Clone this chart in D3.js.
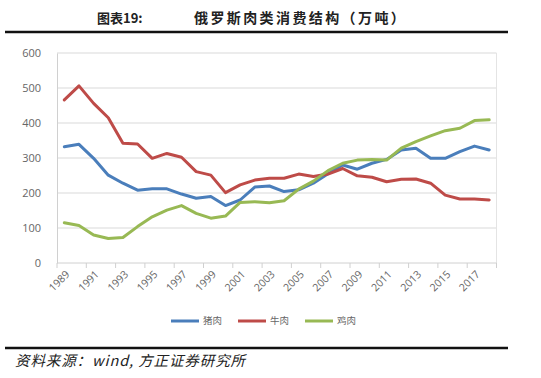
<!DOCTYPE html>
<html>
<head>
<meta charset="utf-8">
<script src="https://cdnjs.cloudflare.com/ajax/libs/d3/7.8.5/d3.min.js"></script>
<style>
  html, body { margin: 0; padding: 0; background: #fff; }
  svg { display: block; }
</style>
</head>
<body>
<svg id="chart" width="541" height="378"></svg>
<script>
const years = ["1989","1990","1991","1992","1993","1994","1995","1996","1997","1998","1999","2000","2001","2002","2003","2004","2005","2006","2007","2008","2009","2010","2011","2012","2013","2014","2015","2016","2017","2018"];
const pork = [332,339,299,251,228,208,212,212,197,185,190,164,180,217,220,204,209,228,255,280,268,285,296,323,328,299,299,318,334,323];
const beef = [466,506,456,415,342,340,299,313,302,261,251,201,223,237,242,242,254,247,254,270,249,245,232,239,240,228,194,183,183,180];
const chicken = [115,107,80,70,73,104,132,151,164,142,128,134,173,175,172,178,211,234,264,285,294,296,294,328,347,363,378,385,407,409];
const seriesNames = ["猪肉","牛肉","鸡肉"];
const yTicks = [0,100,200,300,400,500,600];
const titleLeft = "图表19:";
const titleRight = "俄罗斯肉类消费结构（万吨）";
const sourceText = "资料来源：wind, 方正证券研究所";

(function () {
const colors = ["#4a7ebb", "#be4b48", "#98b954"];
const seriesData = [pork, beef, chicken];

const svg = d3.select("#chart");
const pLeft = 57, pRight = 496.5, pTop = 53, pBottom = 263;

const x = d3.scaleBand().domain(years).range([pLeft, pRight]).padding(0);
const y = d3.scaleLinear().domain([0, 600]).range([pBottom, pTop]);

// Title
svg.append("text").attr("x", 97).attr("y", 23)
  .attr("font-family", "Noto Sans CJK SC").attr("font-size", 13).attr("font-weight", 700).attr("fill", "#222")
  .text(titleLeft);
svg.append("text").attr("x", 194).attr("y", 23)
  .attr("font-family", "Noto Sans CJK SC").attr("font-size", 14).attr("font-weight", 700)
  .attr("letter-spacing", 2.4).attr("fill", "#222")
  .text(titleRight);
svg.append("line").attr("x1", 5).attr("x2", 508).attr("y1", 32).attr("y2", 32)
  .attr("stroke", "#111").attr("stroke-width", 2.5);

// Gridlines
svg.append("g").selectAll("line").data(yTicks.filter(d => d > 0)).join("line")
  .attr("x1", pLeft).attr("x2", pRight)
  .attr("y1", d => y(d)).attr("y2", d => y(d))
  .attr("stroke", "#d9d9d9").attr("stroke-width", 1);

// Right border line
svg.append("line").attr("x1", pRight).attr("x2", pRight).attr("y1", pTop).attr("y2", pBottom)
  .attr("stroke", "#e4e4e4").attr("stroke-width", 1);

// Y axis
const yAxis = d3.axisLeft(y).tickValues(yTicks).tickSize(0).tickPadding(16);
const yg = svg.append("g").attr("transform", `translate(${pLeft},0)`).call(yAxis);
yg.select(".domain").attr("stroke", "#d0d0d0");
yg.selectAll("text").attr("font-family", "Open Sans, sans-serif").attr("font-size", 11).attr("fill", "#666");

// X axis line and ticks
svg.append("line").attr("x1", pLeft).attr("x2", pRight).attr("y1", pBottom).attr("y2", pBottom)
  .attr("stroke", "#d0d0d0").attr("stroke-width", 1);
const tickYears = years.filter((d, i) => i % 2 === 0);
svg.append("g").selectAll("line").data(tickYears).join("line")
  .attr("x1", d => x(d)).attr("x2", d => x(d))
  .attr("y1", pBottom).attr("y2", pBottom + 5)
  .attr("stroke", "#d0d0d0");
svg.append("line").attr("x1", pRight).attr("x2", pRight).attr("y1", pBottom).attr("y2", pBottom + 5).attr("stroke", "#d0d0d0");

// X labels
svg.append("g").selectAll("text").data(tickYears).join("text")
  .attr("transform", d => `translate(${x(d) + x.bandwidth() / 2 + 4},${pBottom + 10}) rotate(-45)`)
  .attr("text-anchor", "end")
  .attr("dominant-baseline", "middle")
  .attr("font-family", "Open Sans, sans-serif").attr("font-size", 10.5).attr("fill", "#666")
  .text(d => d);

// Lines
const line = d3.line()
  .x((d, i) => x(years[i]) + x.bandwidth() / 2)
  .y(d => y(d));
svg.append("g").selectAll("path").data(seriesData).join("path")
  .attr("d", d => line(d))
  .attr("fill", "none")
  .attr("stroke", (d, i) => colors[i])
  .attr("stroke-width", 3)
  .attr("stroke-linejoin", "round")
  .attr("stroke-linecap", "round");

// Legend
const legendX = [171, 238, 305];
const lg = svg.append("g").selectAll("g").data(seriesNames).join("g")
  .attr("transform", (d, i) => `translate(${legendX[i]},321)`);
lg.append("line").attr("x1", 0).attr("x2", 28).attr("y1", 0).attr("y2", 0)
  .attr("stroke", (d, i) => colors[i]).attr("stroke-width", 3);
lg.append("text").attr("x", 32).attr("y", 0).attr("dominant-baseline", "middle")
  .attr("font-family", "Noto Sans CJK SC").attr("font-size", 9.5).attr("fill", "#666")
  .text(d => d);

// Bottom rule & source
svg.append("line").attr("x1", 5).attr("x2", 508).attr("y1", 348).attr("y2", 348)
  .attr("stroke", "#111").attr("stroke-width", 2.5);
svg.append("text").attr("x", 15).attr("y", 366)
  .attr("font-family", "Noto Sans CJK SC").attr("font-size", 14.5).attr("font-style", "italic")
  .attr("letter-spacing", 0.9).attr("fill", "#222")
  .text(sourceText);
})();
</script>
</body>
</html>
